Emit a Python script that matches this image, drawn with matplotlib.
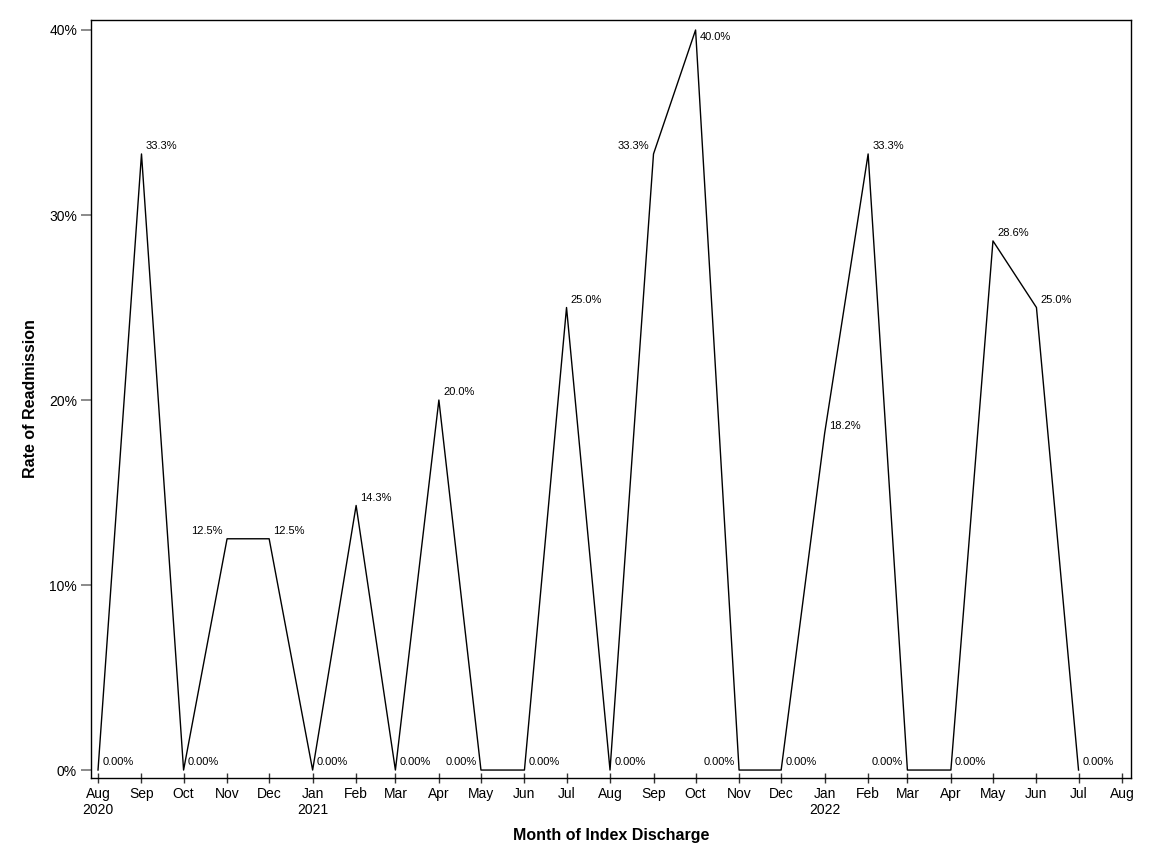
import matplotlib
matplotlib.use("Agg")
import matplotlib.pyplot as plt
import matplotlib.dates as mdates
from matplotlib.ticker import FixedLocator
import datetime as dt

plt.rcParams['font.family'] = ['Liberation Sans', 'DejaVu Sans']

months = ["2020-08", "2020-09", "2020-10", "2020-11", "2020-12",
          "2021-01", "2021-02", "2021-03", "2021-04", "2021-05", "2021-06",
          "2021-07", "2021-08", "2021-09", "2021-10", "2021-11", "2021-12",
          "2022-01", "2022-02", "2022-03", "2022-04", "2022-05", "2022-06",
          "2022-07"]
rates = [0.0, 33.3, 0.0, 12.5, 12.5, 0.0, 14.3, 0.0, 20.0, 0.0, 0.0,
         25.0, 0.0, 33.3, 40.0, 0.0, 0.0, 18.2, 33.3, 0.0, 0.0, 28.6, 25.0, 0.0]
label_side = ["R", "R", "R", "L", "R", "R", "R", "R", "R", "L", "R",
              "R", "R", "L", "RB", "L", "R", "R", "R", "L", "R", "R", "R", "R"]

tick_months = months + ["2022-08"]
tick_labels = ["Aug\n2020", "Sep", "Oct", "Nov", "Dec", "Jan\n2021", "Feb", "Mar",
               "Apr", "May", "Jun", "Jul", "Aug", "Sep", "Oct", "Nov", "Dec",
               "Jan\n2022", "Feb", "Mar", "Apr", "May", "Jun", "Jul", "Aug"]
y_ticks = [0, 10, 20, 30, 40]

dates = [dt.datetime.strptime(m, "%Y-%m") for m in months]
tdates = [dt.datetime.strptime(m, "%Y-%m") for m in tick_months]

fig = plt.figure(figsize=(11.52, 8.64), dpi=100)
ax = fig.add_axes([91/1152, 1-778/864, (1131-91)/1152, (778-20)/864])

ax.plot(dates, rates, color='black', linewidth=1.0)

for d, v, s in zip(dates, rates, label_side):
    txt = "0.00%" if v == 0 else f"{v:.1f}%"
    if s == "R":
        ax.annotate(txt, (d, v), xytext=(3, 5.5), textcoords='offset points',
                    ha='left', va='center', fontsize=8)
    elif s == "RB":
        ax.annotate(txt, (d, v), xytext=(3, -5), textcoords='offset points',
                    ha='left', va='center', fontsize=8)
    else:
        ax.annotate(txt, (d, v), xytext=(-3, 5.5), textcoords='offset points',
                    ha='right', va='center', fontsize=8)

ax.set_xlim(dates[0] - dt.timedelta(days=5), tdates[-1] + dt.timedelta(days=6.4))
ax.set_ylim(-0.43, 40.54)

ax.xaxis.set_major_locator(FixedLocator(mdates.date2num(tdates)))
ax.set_xticklabels(tick_labels)
ax.set_yticks(y_ticks)
ax.set_yticklabels([f"{t}%" for t in y_ticks])

ax.tick_params(axis='x', direction='inout', length=7, width=1, labelsize=10, pad=3, color='#333333')
ax.tick_params(axis='y', direction='out', length=7, width=1.2, labelsize=10, pad=3, color='#777777')

for sp in ax.spines.values():
    sp.set_linewidth(1.0)
    sp.set_color('black')

ax.set_xlabel("Month of Index Discharge", fontsize=11.5, fontweight='bold', labelpad=8)
ax.set_ylabel("Rate of Readmission", fontsize=11.5, fontweight='bold', labelpad=8)

fig.savefig("out.png", dpi=100)
